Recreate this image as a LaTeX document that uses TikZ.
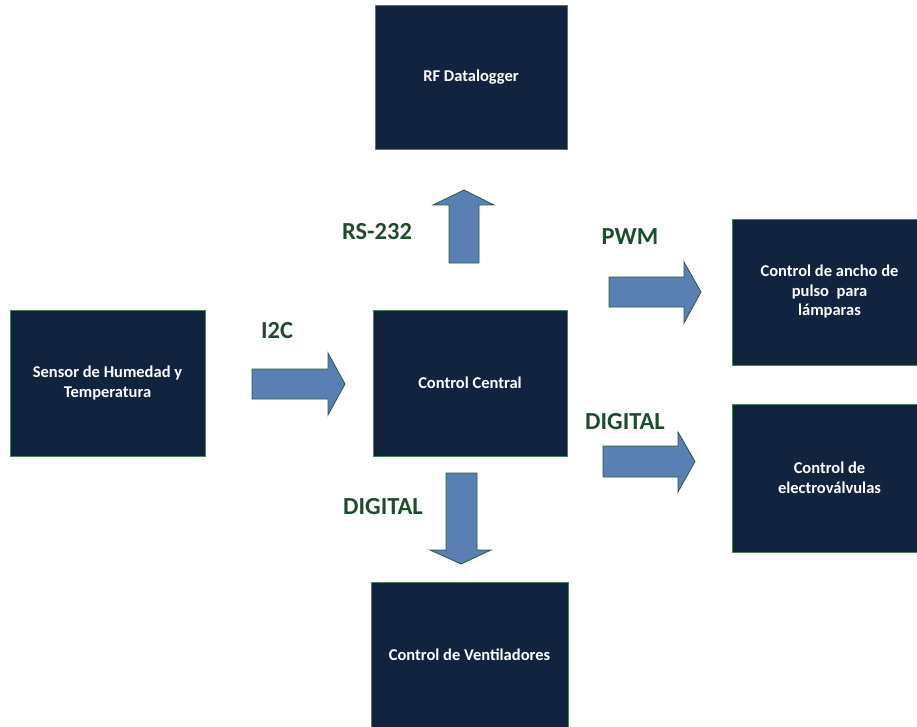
\documentclass[tikz,border=0pt]{standalone}
\usepackage{fontspec}
\setmainfont{Carlito}
\begin{document}
\definecolor{boxnavy}{HTML}{12233F}
\definecolor{boxedge}{HTML}{4E7D5C}
\definecolor{arrowfill}{HTML}{5A80B3}
\definecolor{arrowedge}{HTML}{2F5A3A}
\definecolor{labelgreen}{HTML}{1E4D2C}
\begin{tikzpicture}[x=1pt,y=-1pt,
  block/.style={draw=boxedge, line width=0.8pt, fill=boxnavy, text=white,
    inner sep=0pt, minimum width=195pt, minimum height=146pt,
    align=center, font=\bfseries\fontsize{16.5}{19.5}\selectfont},
  blockarrow/.style={fill=arrowfill, draw=arrowedge, line width=0.8pt, line join=miter},
  buslabel/.style={text=labelgreen, inner sep=0pt, font=\bfseries\fontsize{24.5}{28}\selectfont}]
  \useasboundingbox (0,0) rectangle (917,727);
  \clip (0,0) rectangle (917,727);

  % functional blocks
  \node[block] (sensor)  at (107.5,383) {Sensor de Humedad y\\Temperatura};
  \node[block, minimum width=192pt, minimum height=144pt] (rf) at (471,77) {RF Datalogger};
  \node[block, minimum width=194pt] (central) at (470,383) {Control Central};
  \node[block, minimum width=197pt] (vent) at (469.5,655) {Control de Ventiladores};
  \node[block] (pwmbox) at (829.5,292) {Control de ancho de\\pulso~ para\\lámparas};
  \node[block, minimum height=148pt] (valves) at (829.5,478) {Control de\\electroválvulas};

  % block arrows between the modules
  % sensor -> central
  \draw[blockarrow] (252,369) -- (328,369) -- (328,353) -- (345,384)
    -- (328,415) -- (328,399) -- (252,399) -- cycle;
  % central -> datalogger
  \draw[blockarrow] (449,263) -- (449,205) -- (433,205) -- (464,190)
    -- (494,205) -- (479,205) -- (479,263) -- cycle;
  % central -> pulse width control
  \draw[blockarrow] (609,277) -- (684,277) -- (684,262) -- (701,292)
    -- (684,323) -- (684,307) -- (609,307) -- cycle;
  % central -> valves
  \draw[blockarrow] (603,446) -- (678,446) -- (678,432) -- (695,461.5)
    -- (678,492) -- (678,477) -- (603,477) -- cycle;
  % central -> fans
  \draw[blockarrow] (446,473) -- (477,473) -- (477,550) -- (491,550)
    -- (461,564) -- (430,550) -- (446,550) -- cycle;

  % bus labels
  \node[buslabel] (lbli2c)  at (277,331) {I2C};
  \node[buslabel] (lblrs)   at (377,232) {RS-232};
  \node[buslabel] (lblpwm)  at (630,237) {PWM};
  \node[buslabel] (lbldigr) at (625,422) {DIGITAL};
  \node[buslabel] (lbldigd) at (383,507) {DIGITAL};
\end{tikzpicture}
\end{document}
